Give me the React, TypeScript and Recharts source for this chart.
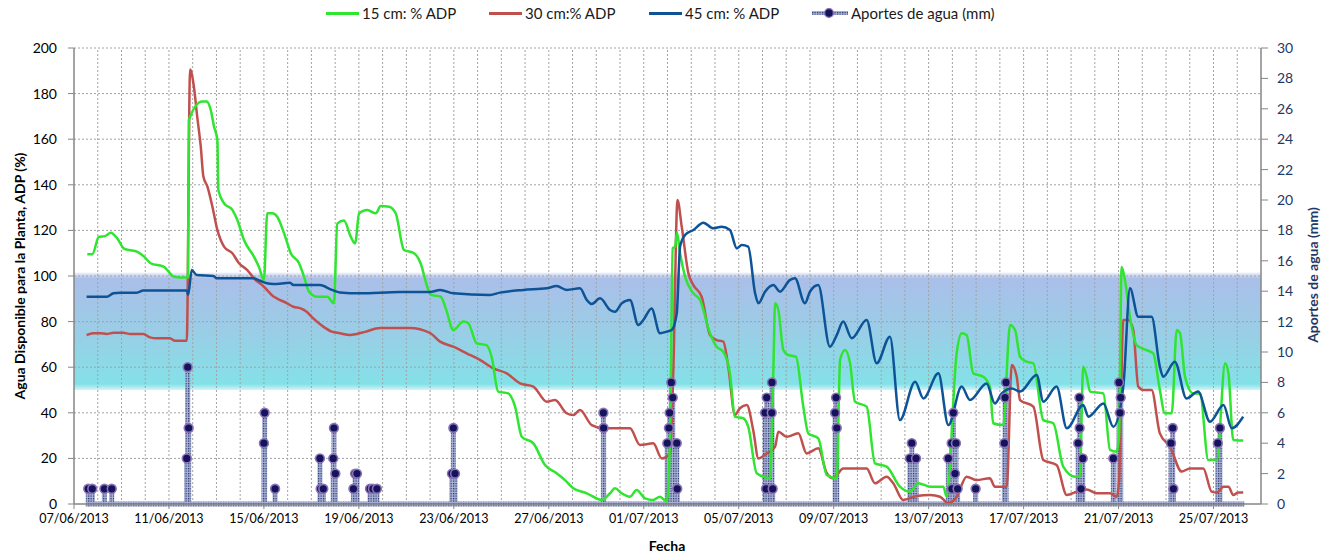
import React from 'react';
import { ComposedChart, Line, XAxis, YAxis, ReferenceArea, ReferenceLine } from 'recharts';

// x = days since 07/06/2013 00:00
const xTicks = [0, 4, 8, 12, 16, 20, 24, 28, 32, 36, 40, 44, 48];
const xTickLabels = ['07/06/2013', '11/06/2013', '15/06/2013', '19/06/2013', '23/06/2013', '27/06/2013', '01/07/2013', '05/07/2013', '09/07/2013', '13/07/2013', '17/07/2013', '21/07/2013', '25/07/2013'];
const leftTicks = [0, 20, 40, 60, 80, 100, 120, 140, 160, 180, 200];
const rightTicks = [0, 2, 4, 6, 8, 10, 12, 14, 16, 18, 20, 22, 24, 26, 28, 30];
const gridDays = [1, 2, 3, 4, 5, 6, 7, 8, 9, 10, 11, 12, 13, 14, 15, 16, 17, 18, 19, 20, 21, 22, 23, 24, 25, 26, 27, 28, 29, 30, 31, 32, 33, 34, 35, 36, 37, 38, 39, 40, 41, 42, 43, 44, 45, 46, 47, 48, 49];
const gridLeft = [20, 40, 60, 80, 100, 120, 140, 160, 180, 200];
const bandRange = [50, 101.5];

const seriesNames = ['15 cm: % ADP', '30 cm:% ADP', '45 cm: % ADP', 'Aportes de agua (mm)'];

const adp15: [number, number][] = [
  [0.56, 109.5], [0.77, 109.5], [1.05, 117.2], [1.31, 117.5], [1.55, 119], [1.82, 116.5], [2.11, 112], [2.32, 111.4], [2.65, 110.7], [2.95, 108.5], [3.23, 105.6], [3.79, 104], [3.93, 102.6], [4.21, 99.7], [4.71, 99.3], [4.8, 99.5], [4.84, 168.4], [5.4, 176.5], [5.59, 176.5], [5.76, 172.8], [5.9, 165.5], [6.04, 159.6], [6.08, 137.7], [6.32, 131.9], [6.67, 129], [6.88, 124.6], [7.16, 115.8], [7.58, 108.5], [7.79, 104], [8.0, 98.2], [8.14, 127.5], [8.35, 127.5], [8.56, 126], [8.85, 118.7], [9.13, 110], [9.48, 105.6], [9.69, 99.7], [9.9, 93.1], [10.25, 90.9], [10.67, 90.9], [10.95, 88], [11.09, 123], [11.37, 124.3], [11.66, 117.2], [11.84, 114.3], [12.01, 127.5], [12.35, 129], [12.71, 127.5], [12.92, 130.7], [13.27, 130.4], [13.55, 127.5], [13.9, 111.4], [14.32, 110], [14.6, 105.6], [14.88, 95.3], [15.03, 91.7], [15.45, 90.9], [15.66, 85.8], [15.98, 76.3], [16.4, 80], [16.61, 79.3], [16.96, 70.5], [17.38, 69.7], [17.59, 64.6], [17.87, 49.3], [18.29, 48.5], [18.58, 42.7], [18.86, 29.5], [19.35, 26.6], [19.84, 17.1], [20.33, 13.5], [20.68, 10.5], [21.03, 6.9], [21.6, 4.7], [22.23, 1.75], [22.58, 4.7], [22.79, 6.9], [23.07, 4.7], [23.42, 3.2], [23.7, 6.1], [24.05, 2.5], [24.4, 1.75], [24.68, 3.2], [24.97, 1.0], [25.11, 31], [25.22, 112.1], [25.32, 112.9], [25.4, 119], [25.53, 110], [25.74, 99.7], [26.09, 92.4], [26.37, 89.5], [26.79, 74.9], [27.07, 69], [27.35, 66.8], [27.63, 57.3], [27.84, 38.3], [28.19, 37.6], [28.4, 33.9], [28.76, 13.5], [29.32, 11.3], [29.46, 58.8], [29.53, 88], [29.67, 85.1], [29.88, 67.5], [30.05, 65.5], [30.41, 64.6], [30.72, 42.7], [30.93, 31], [31.35, 28.8], [31.71, 12.7], [32.13, 11.3], [32.27, 63.2], [32.48, 67.5], [32.69, 61.7], [32.9, 44.9], [33.39, 42.7], [33.74, 17.8], [34.23, 16.4], [34.79, 7.6], [35.21, 5.4], [35.56, 9.1], [36.06, 7.6], [36.62, 7.6], [36.76, 3.2], [37.18, 66.1], [37.39, 74.9], [37.6, 74.1], [37.88, 57.3], [38.3, 55.8], [38.58, 51.5], [38.72, 35.4], [39.14, 34.6], [39.43, 78.5], [39.64, 76.3], [39.85, 64.6], [40.13, 62.4], [40.41, 61.7], [40.83, 36.8], [41.25, 35.4], [41.67, 16.4], [42.16, 12], [42.37, 12], [42.51, 60.2], [42.66, 55.8], [42.8, 49.3], [43.36, 48.5], [43.64, 23.7], [43.92, 22.9], [44.02, 30], [44.13, 104], [44.27, 98.2], [44.48, 82.1], [44.76, 69.7], [45.18, 67.5], [45.46, 66.1], [45.74, 50], [45.95, 39.8], [46.24, 39.8], [46.45, 76.3], [46.59, 74.9], [46.8, 55.8], [47.15, 48.5], [47.43, 48.5], [47.78, 19.3], [48.14, 19.3], [48.49, 61.7], [48.63, 57.3], [48.83, 28.1], [49.25, 27.8],
];

const adp30: [number, number][] = [
  [0.53, 74.1], [0.81, 74.9], [1.1, 74.9], [1.38, 74.6], [1.66, 75.1], [2.08, 75.1], [2.36, 74.6], [2.92, 74.6], [3.2, 73.1], [3.48, 72.7], [4.04, 72.7], [4.25, 71.6], [4.75, 71.6], [4.89, 190.6], [5.05, 183], [5.19, 169.9], [5.34, 156.7], [5.45, 143.6], [5.62, 139.2], [5.83, 130.4], [6.04, 120.2], [6.32, 112.9], [6.67, 110], [6.95, 105.6], [7.3, 102.6], [7.65, 98.2], [7.83, 96.8], [8.0, 95.3], [8.42, 90.9], [8.54, 90.2], [8.98, 88], [9.24, 86.5], [9.55, 85.8], [9.8, 84.3], [10.08, 81.4], [10.5, 77.8], [10.86, 75.6], [11.2, 74.9], [11.63, 74.1], [11.91, 74.6], [12.26, 75.5], [12.89, 77.2], [14.15, 77.2], [15.0, 75], [15.42, 71.2], [15.98, 69], [16.54, 66.1], [17.1, 63.2], [17.66, 59.5], [18.23, 57.3], [18.79, 52.9], [19.35, 51.5], [19.91, 44.9], [20.26, 45.6], [20.75, 39.8], [21.03, 39], [21.31, 41.2], [21.81, 34.6], [22.3, 33.2], [23.42, 33.2], [23.84, 25.9], [24.4, 26.6], [24.76, 20], [25.11, 22.2], [25.25, 60.2], [25.42, 133.3], [25.6, 121.6], [25.88, 101.2], [26.09, 96], [26.44, 90.9], [26.79, 74.1], [27.07, 71.9], [27.35, 71.2], [27.56, 60.2], [27.84, 39], [28.05, 42], [28.34, 43.4], [28.61, 32.5], [28.83, 20], [29.18, 22.2], [29.53, 25.1], [29.67, 31.7], [30.02, 29.5], [30.51, 31], [30.86, 22.2], [31.35, 24.4], [31.71, 13.5], [31.98, 11.3], [32.41, 15.6], [33.39, 15.6], [33.74, 9.1], [34.23, 12], [34.51, 9.1], [34.93, 1.75], [35.5, 3.5], [36.06, 3.9], [36.48, 3.2], [36.83, 0.3], [37.18, 3.2], [37.6, 12], [38.02, 10.5], [38.58, 11.3], [38.79, 7.6], [39.29, 7.6], [39.5, 61], [39.71, 55.8], [39.85, 45.6], [40.41, 42.7], [40.83, 19.3], [41.39, 17.1], [41.82, 3.9], [42.24, 5.4], [42.66, 6.4], [43.08, 4.7], [43.64, 4.7], [43.92, 3.2], [44.02, 10], [44.2, 80.7], [44.41, 80.7], [44.62, 76.3], [44.83, 51.5], [45.04, 50], [45.39, 50], [45.74, 31], [46.17, 25.1], [46.66, 14.2], [47.01, 15.6], [47.57, 15.6], [47.92, 5.4], [48.14, 5], [48.42, 7.6], [48.63, 7.6], [48.83, 3.9], [49.04, 5], [49.25, 5],
];

const adp45: [number, number][] = [
  [0.53, 90.9], [1.38, 90.9], [1.66, 92.4], [1.94, 92.7], [2.64, 92.7], [2.92, 93.6], [4.75, 93.6], [4.81, 91.7], [4.96, 102.6], [5.17, 100.4], [5.87, 100], [6.01, 99], [7.55, 99], [7.83, 97.9], [8.12, 96.8], [8.4, 96.5], [9.1, 97], [9.24, 96], [10.36, 96], [10.86, 93.9], [11.2, 92.8], [12.05, 92.4], [13.73, 93], [15.0, 93], [15.42, 93.9], [15.98, 92.4], [17.52, 91.7], [17.94, 92.7], [18.93, 93.9], [19.91, 94.6], [20.33, 95.6], [20.75, 93.9], [21.31, 94.6], [21.6, 89.5], [21.81, 87.7], [22.16, 90.2], [22.58, 85.1], [22.79, 84.3], [23.07, 88], [23.42, 89.5], [23.77, 78.5], [23.98, 80.7], [24.33, 85.8], [24.68, 74.9], [24.97, 75.6], [25.18, 76.3], [25.39, 83.6], [25.53, 112.9], [25.74, 118], [26.09, 120.2], [26.51, 123.4], [26.93, 120.9], [27.28, 121.6], [27.63, 120.2], [27.92, 112.1], [28.13, 113.6], [28.4, 112.9], [28.69, 92.4], [28.83, 88], [29.11, 93.1], [29.46, 96], [29.74, 93.1], [30.15, 98.2], [30.37, 99], [30.79, 88], [31.0, 93.1], [31.35, 96], [31.84, 69], [32.13, 74.1], [32.4, 80], [32.76, 72.7], [33.39, 80.7], [33.81, 61.7], [34.37, 73.4], [34.79, 36.8], [35.43, 53.6], [35.78, 46.3], [36.41, 57.3], [36.83, 34.6], [37.39, 51.5], [37.74, 45.6], [38.44, 52.9], [38.79, 44.1], [39.08, 48.5], [39.5, 50.7], [39.85, 49.3], [40.55, 56.6], [40.83, 44.9], [41.39, 51.5], [41.82, 33.2], [42.51, 43.4], [42.73, 38.3], [43.36, 44.1], [43.78, 33.9], [44.2, 51.5], [44.48, 94.6], [44.83, 82.1], [45.39, 82.1], [45.74, 60.2], [45.88, 55.8], [46.37, 62.4], [46.86, 46.3], [47.35, 49.3], [47.85, 36.1], [48.42, 43.4], [48.77, 33.2], [49.25, 38.3],
];

// irrigation events: [day, mm]
const aportes: [number, number][] = [
  [0.6, 1], [0.77, 1], [1.28, 1], [1.59, 1],
  [4.75, 3], [4.79, 9], [4.83, 5],
  [8.0, 4], [8.03, 6], [8.47, 1],
  [10.36, 3], [10.39, 1], [10.5, 1], [10.92, 3], [10.95, 5], [11.01, 2],
  [11.77, 1], [11.84, 2], [11.92, 2], [12.47, 1], [12.59, 1], [12.76, 1],
  [15.92, 2], [15.98, 5], [16.05, 2],
  [22.3, 6], [22.31, 5],
  [24.99, 4], [25.06, 5], [25.09, 6], [25.16, 8], [25.22, 7], [25.39, 4], [25.41, 1],
  [29.11, 6], [29.15, 1], [29.18, 7], [29.39, 6], [29.4, 8], [29.43, 1],
  [32.06, 6], [32.1, 7], [32.13, 5],
  [35.21, 3], [35.29, 4], [35.47, 3],
  [36.83, 3], [36.97, 4], [36.98, 1], [37.04, 6], [37.11, 2], [37.15, 4], [37.22, 1],
  [37.98, 1],
  [39.19, 4], [39.22, 7], [39.26, 8],
  [42.3, 4], [42.35, 7], [42.36, 5], [42.42, 1], [42.49, 3],
  [43.78, 3], [44.02, 8], [44.06, 6], [44.09, 7],
  [46.21, 4], [46.28, 5], [46.31, 1],
  [48.18, 4], [48.27, 5],
];
const aportesSpan = [0.5, 49.3];

const toRows = (arr: [number, number][]) => arr.map(([d, v]) => ({ d, v }));
const rows15 = toRows(adp15);
const rows30 = toRows(adp30);
const rows45 = toRows(adp45);
const rowsAportes = (() => {
  const out: { d: number; v: number }[] = [{ d: aportesSpan[0], v: 0 }];
  aportes.forEach(([d, v]) => {
    out.push({ d, v: 0 }, { d, v }, { d, v: 0 });
  });
  out.push({ d: aportesSpan[1], v: 0 });
  return out;
})();

const C15 = '#2fe52f';
const C30 = '#c0504d';
const C45 = '#0d5396';
const NAVY = '#1f3864';
const GRID = '#a3a3a3';
const AXIS = '#868686';
const FONT = "Lato, 'Open Sans', sans-serif";

const AportesDot = (props: any) => {
  const { cx, cy, payload, index } = props;
  if (!payload || payload.v <= 0) return <g key={'e' + index} />;
  return <circle key={'a' + index} cx={cx} cy={cy} r={4.4} fill="#14145c" stroke="#8c72b6" strokeWidth={1.6} />;
};

export default function App() {
  const legendItems = [
    { left: 318, color: C15, name: seriesNames[0] },
    { left: 481, color: C30, name: seriesNames[1] },
    { left: 641, color: C45, name: seriesNames[2] },
  ];
  return (
    <div style={{ position: 'relative', width: 1315, height: 545, fontFamily: FONT }}>
      <ComposedChart width={1315} height={545} margin={{ top: 40, right: 0, bottom: 1, left: 0 }}>
        <defs>
          <linearGradient id="bandGrad" x1="0" y1="0" x2="0" y2="1">
            <stop offset="0" stopColor="#eef1fa" />
            <stop offset="0.05" stopColor="#aabfe9" />
            <stop offset="0.5" stopColor="#9acde6" />
            <stop offset="0.95" stopColor="#84e1e8" />
            <stop offset="1" stopColor="#d3f4f6" />
          </linearGradient>
          <pattern id="hatch" width="2.5" height="2.5" patternUnits="userSpaceOnUse">
            <rect width="2.5" height="2.5" fill="#a9b1d4" />
            <rect width="1.25" height="1.25" fill="#26356f" />
          </pattern>
        </defs>
        <XAxis
          xAxisId={0}
          dataKey="d"
          type="number"
          domain={[0, 50]}
          ticks={xTicks}
          interval={0}
          allowDataOverflow
          height={48}
          tickSize={5}
          tickMargin={5}
          tickFormatter={(v: number) => xTickLabels[xTicks.indexOf(v)] ?? ''}
          tick={{ fontSize: 12.5, fill: '#000', fontFamily: FONT }}
          axisLine={{ stroke: AXIS, strokeWidth: 1.5 }}
          tickLine={{ stroke: AXIS }}
        />
        <YAxis
          yAxisId="left"
          orientation="left"
          domain={[0, 200]}
          ticks={leftTicks}
          interval={0}
          width={66}
          tickSize={6}
          tickMargin={11}
          tick={{ fontSize: 14, fill: '#000', fontFamily: FONT }}
          axisLine={{ stroke: AXIS, strokeWidth: 1.5 }}
          tickLine={{ stroke: AXIS }}
        />
        <YAxis
          yAxisId="right"
          orientation="right"
          domain={[0, 30]}
          ticks={rightTicks}
          interval={0}
          width={62}
          tickSize={7}
          tickMargin={9}
          tick={{ fontSize: 14, fill: NAVY, fontFamily: FONT }}
          axisLine={{ stroke: AXIS, strokeWidth: 1.5 }}
          tickLine={{ stroke: AXIS }}
        />
        <ReferenceArea
          yAxisId="left"
          x1={0}
          x2={50}
          y1={bandRange[0]}
          y2={bandRange[1]}
          fill="url(#bandGrad)"
          fillOpacity={1}
          stroke="none"
          zIndex={-200}
        />
        {gridLeft.map((v) => (
          <ReferenceLine key={'h' + v} yAxisId="left" y={v} stroke={GRID} strokeDasharray="2 2" strokeWidth={1} zIndex={-150} />
        ))}
        {gridDays.map((d) => (
          <ReferenceLine key={'v' + d} yAxisId="left" x={d} stroke={GRID} strokeDasharray="2 2" strokeWidth={1} zIndex={-150} />
        ))}
        <Line
          yAxisId="right"
          data={rowsAportes}
          dataKey="v"
          name={seriesNames[3]}
          type="linear"
          stroke="url(#hatch)"
          strokeWidth={5}
          dot={AportesDot}
          activeDot={false}
          isAnimationActive={false}
        />
        <Line yAxisId="left" data={rows30} dataKey="v" name={seriesNames[1]} type="monotone" stroke={C30} strokeWidth={2.5} dot={false} activeDot={false} isAnimationActive={false} />
        <Line yAxisId="left" data={rows15} dataKey="v" name={seriesNames[0]} type="monotone" stroke={C15} strokeWidth={2.5} dot={false} activeDot={false} isAnimationActive={false} />
        <Line yAxisId="left" data={rows45} dataKey="v" name={seriesNames[2]} type="monotone" stroke={C45} strokeWidth={2.5} dot={false} activeDot={false} isAnimationActive={false} />
      </ComposedChart>

      {legendItems.map((it) => (
        <div key={it.name} style={{ position: 'absolute', left: it.left, top: -4, height: 18, display: 'flex', alignItems: 'center', whiteSpace: 'nowrap' }}>
          <div style={{ width: 33, height: 3, background: it.color, marginRight: 3 }} />
          <span style={{ fontSize: 15, color: '#1a1a1a' }}>{it.name}</span>
        </div>
      ))}
      <div style={{ position: 'absolute', left: 804, top: -4, height: 18, display: 'flex', alignItems: 'center', whiteSpace: 'nowrap' }}>
        <svg width={36} height={12} style={{ marginRight: 3 }}>
          <defs>
            <pattern id="hatchL" width="2.5" height="2.5" patternUnits="userSpaceOnUse">
              <rect width="2.5" height="2.5" fill="#a9b1d4" />
              <rect width="1.25" height="1.25" fill="#26356f" />
            </pattern>
          </defs>
          <rect x={0} y={4} width={36} height={4} fill="url(#hatchL)" />
          <circle cx={17} cy={6} r={4.4} fill="#14145c" stroke="#8c72b6" strokeWidth={1.4} />
        </svg>
        <span style={{ fontSize: 15, color: '#1a1a1a' }}>{seriesNames[3]}</span>
      </div>

      <div style={{ position: 'absolute', left: 11, top: 268, transform: 'translate(-50%, -50%) rotate(-90deg)', whiteSpace: 'nowrap', fontSize: 14, fontWeight: 700, color: '#000' }}>
        Agua Disponible para la Planta, ADP (%)
      </div>
      <div style={{ position: 'absolute', left: 1304, top: 267, transform: 'translate(-50%, -50%) rotate(-90deg)', whiteSpace: 'nowrap', fontSize: 14, fontWeight: 700, color: NAVY }}>
        Aportes de agua (mm)
      </div>
      <div style={{ position: 'absolute', left: 659, top: 537, transform: 'translate(-50%, -50%)', whiteSpace: 'nowrap', fontSize: 14, fontWeight: 700, color: '#000' }}>
        Fecha
      </div>
    </div>
  );
}
